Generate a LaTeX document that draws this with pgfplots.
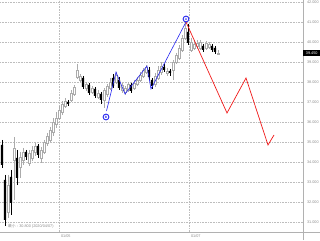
\documentclass[border=0pt]{standalone}
\usepackage{pgfplots}
\pgfplotsset{compat=1.18}
\usepackage{pgfplotstable}
\usepackage{fontspec}
\setmainfont{Liberation Sans}
\newfontfamily\cjk{Noto Sans CJK JP}
\definecolor{gridc}{HTML}{BDBDBD}
\definecolor{lab}{HTML}{8A8A8A}
\definecolor{wick}{HTML}{ABABAB}
\definecolor{bluel}{HTML}{2626F0}
\definecolor{redl}{HTML}{F01818}

\pgfplotstableread{
x o h l c
2 34.85 35.1 33.7 33.85
5 33.1 33.35 30.8 31.1
8 31.5 33.35 31.2 32.85
11 33.25 33.6 31.35 31.95
14 34.1 35.25 32.1 34.7
17 34.2 34.6 32.85 33.2
20 33.75 34.5 33.2 34.25
23 34.1 34.7 33.85 34.5
26 34.5 34.6 34.1 34.25
29 33.95 34.6 33.8 34.45
32 34.2 34.8 34.05 34.6
35 34.5 34.95 34.3 34.8
38 34.8 34.9 34.2 34.35
41 34.2 34.75 33.95 34.6
44 34.5 35.1 34.4 35.0
47 34.95 35.45 34.8 35.3
50 35.1 35.75 35.0 35.6
53 35.5 36.2 35.3 36.0
56 35.9 36.5 35.7 36.2
59 36.2 36.8 36.1 36.6
62 36.5 37.05 36.35 36.9
65 36.8 37.2 36.7 37.05
68 37.0 37.1 36.8 36.9
71 37.1 37.6 37.0 37.45
74 37.4 37.85 37.3 37.75
77 38.25 38.9 38.15 38.6
80 38.1 38.4 38.0 38.3
83 38.2 38.3 37.65 37.75
86 37.7 38.0 37.55 37.9
89 37.85 37.95 37.35 37.45
92 37.5 37.8 37.4 37.7
95 37.65 37.75 37.2 37.3
98 37.25 37.6 37.15 37.45
101 37.4 37.5 36.9 37.1
104 37.1 37.7 36.7 37.6
107 37.4 37.9 37.25 37.8
110 37.7 38.2 37.6 38.0
113 38.2 38.4 37.7 37.8
116 38.0 38.5 37.9 38.35
119 38.1 38.25 37.6 37.7
122 37.6 37.95 37.45 37.85
125 37.5 37.8 37.35 37.7
128 37.6 38.0 37.5 37.9
131 37.85 37.95 37.45 37.55
134 37.7 38.1 37.6 37.95
137 37.9 38.25 37.8 38.1
140 38.1 38.5 38.0 38.35
143 38.3 38.7 38.2 38.6
146 38.5 38.85 38.4 38.75
149 38.6 38.75 38.1 38.25
152 38.1 38.2 37.65 37.8
155 37.9 38.45 37.75 38.3
158 38.2 38.8 38.1 38.6
161 38.5 39.0 38.35 38.8
164 38.75 38.9 38.5 38.6
167 38.45 38.7 38.3 38.55
170 38.55 38.65 38.3 38.45
173 38.6 39.1 38.1 39.0
176 39.0 39.45 38.9 39.35
179 39.2 39.85 39.1 39.7
182 39.6 40.35 39.5 40.2
185 40.2 41.0 40.1 40.7
188 40.5 40.9 39.85 39.95
191 39.6 40.2 39.5 40.0
194 39.7 40.1 39.6 39.9
197 39.8 40.1 39.65 39.95
200 39.7 40.1 39.6 40.0
203 39.8 39.9 39.5 39.6
206 39.7 40.05 39.6 39.95
209 39.75 40.0 39.65 39.9
212 39.8 39.9 39.5 39.6
215 39.7 39.8 39.4 39.5
218 39.4 39.6 39.35 39.45
}\candles

\begin{document}
\begin{tikzpicture}
\pgfplotsset{base/.style={at={(0,0)}, anchor=south west, scale only axis,
  width=303pt, height=232pt, xmin=0, xmax=303, ymin=30.5, ymax=42.1,
  enlargelimits=false}}
% grid, labels and wicks
\begin{axis}[base,
  axis line style={draw=none},
  ytick={31,32,...,42}, xtick={59,189}, xticklabels={01/05,01/07},
  ymajorgrids, xmajorgrids,
  grid style={gridc, line width=0.35pt, dash pattern=on 0.8pt off 0.8pt},
  major tick length=0pt,
  yticklabel pos=right,
  /pgf/number format/assume math mode=true,
  ticklabel style={font=\fontsize{3.8}{4}\selectfont, text=lab},
  yticklabel style={anchor=west, xshift=0.5pt, /pgf/number format/.cd, fixed, fixed zerofill, precision=3},
  xticklabel style={anchor=north west, xshift=-1.5pt, yshift=1pt},
]
\addplot[draw=none, mark=none, error bars/.cd, y dir=minus, y explicit, error mark=none,
  error bar style={draw=wick, line width=0.45pt}]
  table[x=x, y expr={\thisrow{c}>=\thisrow{o} ? \thisrow{h} : nan}, y error expr=\thisrow{h}-\thisrow{l}] {\candles};
\addplot[draw=none, mark=none, error bars/.cd, y dir=minus, y explicit, error mark=none,
  error bar style={draw=black, line width=0.45pt}]
  table[x=x, y expr={\thisrow{c}<\thisrow{o} ? \thisrow{h} : nan}, y error expr=\thisrow{h}-\thisrow{l}] {\candles};
\end{axis}
% candle bodies
\begin{axis}[base, hide axis, ybar stacked, bar width=2.1]
\addplot[draw=none, fill=none] table[x=x, y expr={min(\thisrow{o},\thisrow{c})}] {\candles};
\addplot[draw=none, fill=black] table[x=x, y expr={\thisrow{c}<\thisrow{o} ? \thisrow{o}-\thisrow{c} : 0}] {\candles};
\addplot[draw=wick, line width=0.35pt, fill=white] table[x=x, y expr={\thisrow{c}>=\thisrow{o} ? \thisrow{c}-\thisrow{o} : 0}] {\candles};
\end{axis}
% wave lines and labels
\begin{axis}[base, hide axis, clip=false]
\addplot[bluel, line width=0.6pt, mark=none] coordinates {(106.5,36.55) (116,38.5) (125,37.4) (147,38.8) (151,37.65) (186,41.0)};
\addplot[redl, line width=0.7pt, mark=none] coordinates {(186,41.0) (227,36.45) (246,38.2) (268,34.85) (274,35.35)};
\addplot[only marks, mark=*, mark size=2.9pt, mark options={draw=bluel, fill=white, line width=0.9pt},
  nodes near coords, point meta=explicit symbolic,
  every node near coord/.append style={anchor=center, inner sep=0pt, font=\fontsize{3.2}{3.2}\selectfont\bfseries, text=bluel}]
  coordinates {(106,36.25) [B] (186,41.15) [A]};
\node[anchor=west, inner sep=0pt, font=\fontsize{3.8}{4}\selectfont, text=lab] at (axis cs:8,30.8) {{\cjk 最小} : 30.800 (2020/04/07)};
\end{axis}
\draw[gridc!80!gray, line width=0.5pt] (0,0) -- (320pt,0);
\draw[gridc!80!gray, line width=0.5pt] (303pt,-8pt) -- (303pt,232pt);
\node[fill=black, text=white, inner sep=0pt, anchor=west, minimum width=17pt, minimum height=6pt,
  font=\fontsize{3.8}{4}\selectfont] at (303pt,179pt) {39.450};
\pgfresetboundingbox
\path[use as bounding box] (0,-8pt) rectangle (320pt,232pt);
\end{tikzpicture}
\end{document}
